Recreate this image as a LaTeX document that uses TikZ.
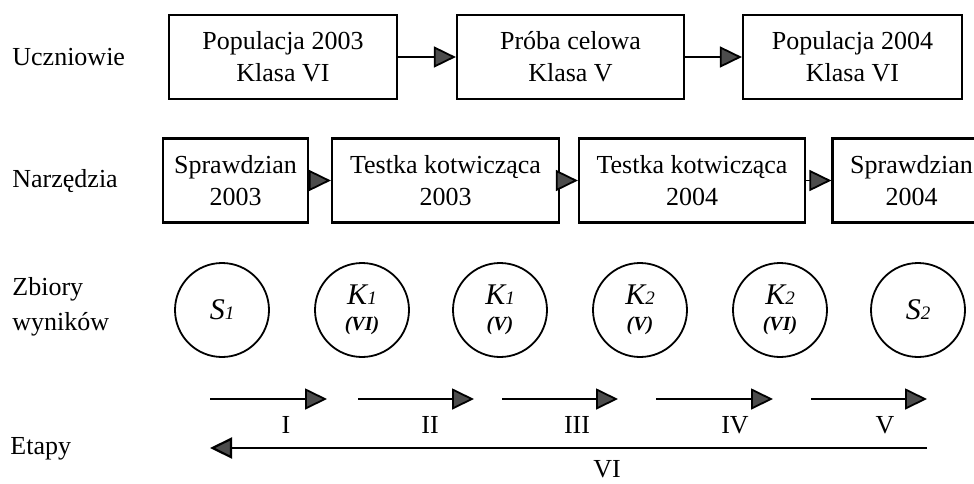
\documentclass[tikz,border=0pt]{standalone}
\usepackage{fontspec}
\setmainfont{Liberation Serif}
\usetikzlibrary{arrows.meta}
\begin{document}
\begin{tikzpicture}[x=0.5pt,y=-0.5pt,
  txt/.style={font=\fontsize{13}{16}\selectfont},
  lab/.style={txt,anchor=west,align=left,inner sep=0pt},
  box/.style={txt,draw,line width=1.1pt,minimum height=42pt,align=center,inner sep=0pt},
  set/.style={draw,circle,line width=0.9pt,minimum size=47pt,inner sep=0pt,align=center},
  tip/.style={-{Triangle[length=11pt,width=10.5pt,fill=black!70]}},
  flow/.style={tip,line width=0.9pt},
  stage/.style={txt,inner sep=0pt}
]
\useasboundingbox (0,0) rectangle (974,483);
\clip (0,0) rectangle (974,483);
% row labels
\node[lab] (lu) at (12,57) {Uczniowie};
\node[lab] (ln) at (12,181) {Narzędzia};
\node[lab,font=\fontsize{13}{17.5}\selectfont] (lz) at (12,307) {Zbiory\\wyników};
\node[lab] (le) at (10,449) {Etapy};
% row 1
\node[box,minimum width=114pt] (u1) at (283,57) {Populacja 2003\\Klasa VI};
\node[box,minimum width=113.5pt] (u2) at (570.5,57) {Próba celowa\\Klasa V};
\node[box,minimum width=109.5pt] (u3) at (852.5,57) {Populacja 2004\\Klasa VI};
\draw[flow] (u1) -- (u2);
\draw[flow] (u2) -- (u3);
% row 2
\node[box,minimum width=72.5pt] (n1) at (235.5,180.5) {Sprawdzian\\2003};
\node[box,minimum width=113.5pt] (n2) at (445.5,180.5) {Testka kotwicząca\\2003};
\node[box,minimum width=113pt] (n3) at (692,180.5) {Testka kotwicząca\\2004};
\node[box,minimum width=79pt] (n4) at (911.5,180.5) {Sprawdzian\\2004};
\draw[flow] (n1) -- (n2);
\draw[flow] (n2) -- (n3);
\draw[flow] (n3) -- (n4);
% row 3
\newcommand{\bigsym}[2]{{\fontsize{15}{15}\selectfont\itshape #1{\fontsize{9.5}{9.5}\selectfont #2}}}
\newcommand{\smallsym}[1]{{\fontsize{10}{10}\selectfont\bfseries\itshape (#1)}}
\node[set] (s1) at (222,310) {\bigsym{S}{1}};
\node[set] (k1a) at (362,310) {\bigsym{K}{1}\\[1pt]\smallsym{VI}};
\node[set] (k1b) at (500,310) {\bigsym{K}{1}\\[1pt]\smallsym{V}};
\node[set] (k2a) at (640,310) {\bigsym{K}{2}\\[1pt]\smallsym{V}};
\node[set] (k2b) at (780,310) {\bigsym{K}{2}\\[1pt]\smallsym{VI}};
\node[set] (s2) at (918,310) {\bigsym{S}{2}};
% row 4
\coordinate (a1s) at (210,399); \coordinate (a1e) at (327,399);
\coordinate (a2s) at (358,399); \coordinate (a2e) at (474,399);
\coordinate (a3s) at (502,399); \coordinate (a3e) at (618,399);
\coordinate (a4s) at (656,399); \coordinate (a4e) at (773,399);
\coordinate (a5s) at (811,399); \coordinate (a5e) at (927,399);
\draw[flow] (a1s) -- (a1e);
\draw[flow] (a2s) -- (a2e);
\draw[flow] (a3s) -- (a3e);
\draw[flow] (a4s) -- (a4e);
\draw[flow] (a5s) -- (a5e);
\node[stage] (e1) at (286,425) {I};
\node[stage] (e2) at (430,425) {II};
\node[stage] (e3) at (577,425) {III};
\node[stage] (e4) at (735,425) {IV};
\node[stage] (e5) at (885,425) {V};
\coordinate (a6s) at (927,448); \coordinate (a6e) at (210,448);
\draw[flow,line width=1.1pt] (a6s) -- (a6e);
\node[stage] (e6) at (607,469) {VI};
\end{tikzpicture}
\end{document}
